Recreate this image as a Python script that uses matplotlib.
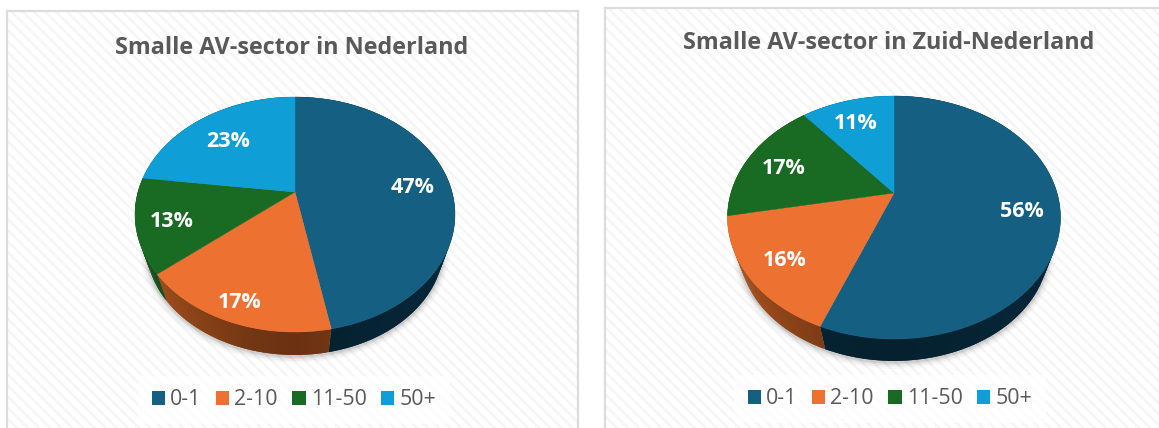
import numpy as np
import matplotlib
matplotlib.use("Agg")
import matplotlib.pyplot as plt
from matplotlib.patches import Patch, Rectangle

W, H = 1159, 428
plt.rcParams['font.family'] = ['Open Sans', 'DejaVu Sans']
plt.rcParams['hatch.linewidth'] = 1.7

categories = ['0-1', '2-10', '11-50', '50+']
values_nl = [47, 17, 13, 23]
values_zuid = [56, 16, 17, 11]
title_nl = 'Smalle AV-sector in Nederland'
title_zuid = 'Smalle AV-sector in Zuid-Nederland'

colors = ['#156082', '#ED7231', '#196B24', '#0F9ED5']
side_near = ['#05212F', '#6B3212', '#0D3A13', '#084F6C']
side_far = ['#06273A', '#A9531F', '#124D1A', '#0A6A90']

def darken(a, b, t):
    ca, cb = np.array(matplotlib.colors.to_rgb(a)), np.array(matplotlib.colors.to_rgb(b))
    return tuple(ca + (cb - ca) * t)

def draw_panel(box, borders, values, title, title_xy, legend_xy, geom, nudges):
    x0, y0, x1, y1 = box
    ax = plt.gcf().add_axes([x0 / W, 1 - y1 / H, (x1 - x0) / W, (y1 - y0) / H])
    ax.set_xlim(x0, x1)
    ax.set_ylim(y1, y0)
    ax.set_xticks([]); ax.set_yticks([])
    ax.patch.set_facecolor('white')
    ax.add_patch(Rectangle((0, 0), 1, 1, transform=ax.transAxes, facecolor='white',
                           edgecolor='#f5f5f5', hatch='\\\\\\', lw=0, zorder=0))
    for name, sp in ax.spines.items():
        sp.set_visible(name in borders)
        sp.set_color('#dcdcdc')
        sp.set_linewidth(1.6)

    cx, cy, up, down, rx, depth, shrink = geom
    k = (down - up) / (down + up)
    ry_p = up * (1 + k)
    rx_p = rx * np.sqrt(1 - k ** 2)
    ey = cy + (down - up) / 2
    ry = (up + down) / 2

    def project(theta, r=1.0):
        u, v = r * np.sin(theta), r * np.cos(theta)
        w = 1 + k * v
        return cx + rx_p * u / w, cy - ry_p * v / w

    def lower(x, y):
        return cx + (x - cx) * shrink, ey + (y - ey) * shrink + depth

    # soft shadow beneath the extruded base
    t = np.linspace(0, 2 * np.pi, 200)
    for grow, alpha in [(7, .025), (5, .04), (3, .06), (1.5, .08)]:
        ax.fill(cx + (rx * shrink + grow) * np.cos(t),
                ey + depth + 1 + (ry * shrink + grow) * np.sin(t),
                color='black', alpha=alpha, lw=0, zorder=1)

    edges = np.cumsum([0] + list(values)) / 100 * 2 * np.pi
    # side wall
    for i in range(len(values)):
        th = np.linspace(edges[i], edges[i + 1], 80)
        px, py = project(th)
        qx, qy = lower(px, py)
        for j in range(len(th) - 1):
            e = min(j + 2, len(th) - 1)
            shade = min(abs(px[j] - cx) / rx, 1) ** 1.5
            ax.fill([px[j], px[e], qx[e], qx[j]],
                    [py[j], py[e], qy[e], qy[j]],
                    color=darken(side_near[i], side_far[i], shade),
                    lw=0, zorder=2)
    # top faces
    for i in range(len(values)):
        th = np.linspace(edges[i], edges[i + 1], 150)
        px, py = project(th)
        ax.fill(np.r_[cx, px], np.r_[cy, py], color=colors[i], lw=0.3, zorder=3)
    # percentage labels
    for i, v in enumerate(values):
        lx, ly = project((edges[i] + edges[i + 1]) / 2, 0.75)
        ax.text(lx + nudges[i][0], ly + nudges[i][1], f'{v}%', color='white',
                fontsize=15.5, fontweight='bold', ha='center', va='center', zorder=5)

    ax.text(*title_xy, title, color='#595959', fontsize=16.8, fontweight='bold',
            ha='center', va='center', zorder=5)

    handles = [Patch(facecolor=c, edgecolor='none', label=n) for c, n in zip(colors, categories)]
    leg = ax.legend(handles=handles, ncol=4, loc='center',
                    bbox_to_anchor=legend_xy, bbox_transform=ax.transData,
                    frameon=True, facecolor='white', edgecolor='none', framealpha=.75,
                    fancybox=False, fontsize=15.4, labelcolor='#595959',
                    handlelength=.62, handleheight=.67, handletextpad=.24,
                    columnspacing=.68, borderpad=.62, borderaxespad=0)
    leg.set_zorder(4)
    return ax

fig = plt.figure(figsize=(W / 100, H / 100), dpi=100, facecolor='white')

draw_panel((7, 11, 578, 432), ('left', 'top', 'right'), values_nl, title_nl,
           (291.5, 48), (294, 400),
           (295, 192, 95, 140, 160, 31.2, .93),
           [(2, 3), (-9, 18), (-5, 5), (3, 7)])
draw_panel((605, 8, 1165, 432), ('left', 'top'), values_zuid, title_zuid,
           (888.5, 43.5), (890, 399),
           (894, 193, 97, 146, 166.5, 30.5, .93),
           [(4, 2), (-5, 6), (-1, 4), (-2, 3)])

fig.savefig('out.png', dpi=100, facecolor='white')
